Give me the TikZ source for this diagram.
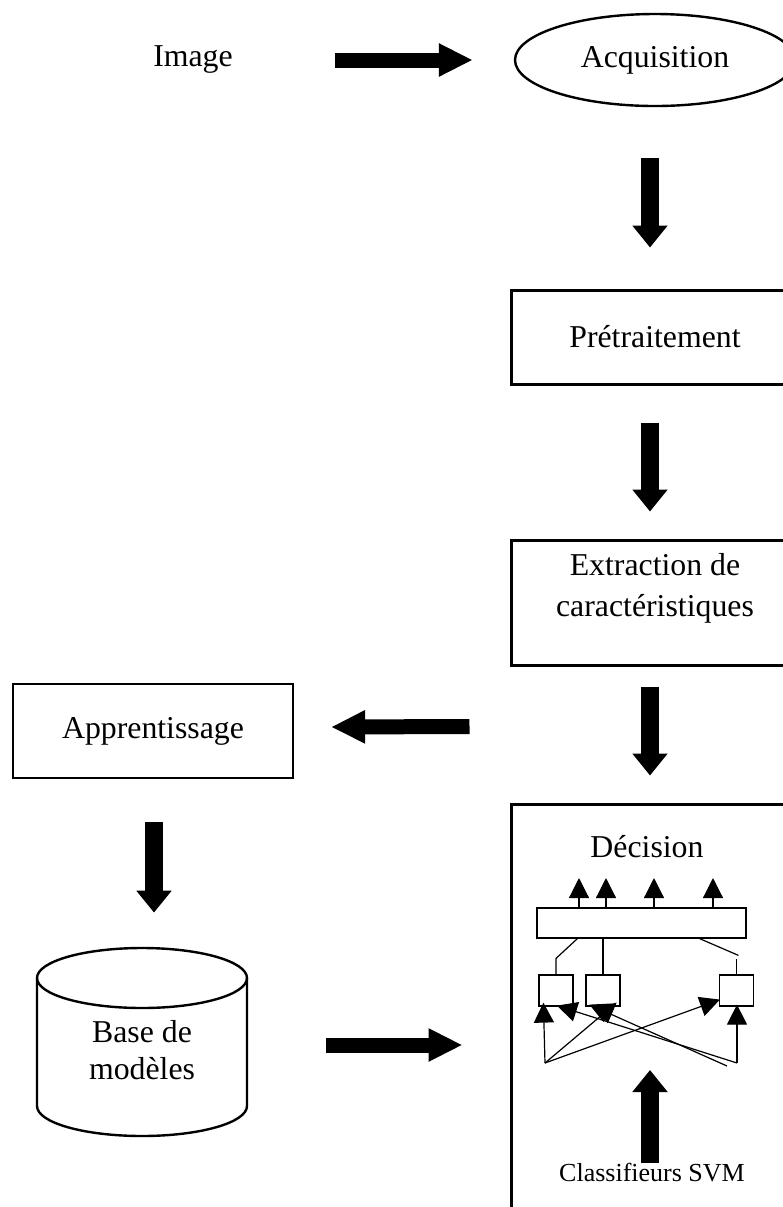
\documentclass[tikz,border=0pt]{standalone}
\usepackage{fontspec}
\setmainfont{Liberation Serif}
\usetikzlibrary{arrows.meta,shapes.geometric}
\begin{document}
\begin{tikzpicture}[x=0.5pt,y=-0.5pt,
  txt/.style={font=\fontsize{15.9}{20.5}\selectfont, inner sep=0pt, align=center},
  box/.style={draw, line width=1.5pt, minimum width=144pt, inner sep=0pt},
  hbig/.style={line width=7.5pt, -{Triangle[width=15.5pt,length=17pt]}},
  vbig/.style={line width=8.8pt, -{Triangle[width=17pt,length=11pt]}},
  thin/.style={line width=0.6pt},
  tharrow/.style={line width=0.6pt, -{Triangle[width=10pt,length=10pt]}},
  smallbox/.style={draw, line width=0.6pt, minimum width=17pt, minimum height=15.5pt, inner sep=0pt}]
\useasboundingbox (0,0) rectangle (783,1207);
\clip (0,0) rectangle (783,1207);

% main chain
\node[txt] (img) at (193,60) {Image};
\node[draw, ellipse, line width=1.2pt, minimum width=140pt, minimum height=46pt, txt] (acq) at (655,60) {Acquisition};
\node[box, minimum height=47pt, txt] (pre) at (655,337) {Prétraitement};
\node[box, minimum height=62.5pt] (ext) at (655,602.5) {};
\node[txt] (exttxt) at (655,588) {Extraction de\\caractéristiques};
\node[draw, line width=1.1pt, minimum width=140pt, minimum height=47pt, txt] (app) at (153,731) {Apprentissage};
\node[box, minimum height=213pt] (dec) at (655,1017) {};

% model base (cylinder)
\node[minimum width=105pt, minimum height=94pt, inner sep=0pt] (db) at (142,1042) {};
\draw[line width=1.2pt] (37,978) -- (37,1106) arc[start angle=180, end angle=0, x radius=105, y radius=30] -- (247,978);
\draw[line width=1.2pt] (142,978) ellipse [x radius=105, y radius=30];
\node[txt, font=\fontsize{15.9}{18.5}\selectfont] (dbtxt) at (142,1050) {Base de\\modèles};

% thick arrows between the stages
\draw[hbig] ([xshift=71pt]img.center) -- ([xshift=-20.5pt]acq.west);
\draw[vbig] ([shift={(-2.5pt,-25.5pt)}]acq.south) -- ([shift={(-2.5pt,20.5pt)}]pre.north);
\draw[vbig] ([shift={(-2.5pt,-18.5pt)}]pre.south) -- ([shift={(-2.5pt,13.5pt)}]ext.north);
\draw[vbig] ([shift={(-2.5pt,-10pt)}]ext.south) -- ([shift={(-2.5pt,13.5pt)}]dec.north);
\draw[hbig] ([shift={(-20pt,-62pt)}]ext.west) -- ([shift={(18.5pt,2pt)}]app.east);
\draw[vbig] ([shift={(0.5pt,-21.5pt)}]app.south) -- ([shift={(6pt,17.5pt)}]db.north);
\draw[hbig] ([shift={(39.5pt,-1.5pt)}]db.east) -- ([shift={(-23.5pt,-14pt)}]dec.west);

% decision block internals
\node[txt] (dectxt) at (647,847) {Décision};
\node[draw, line width=0.6pt, minimum width=104.5pt, minimum height=15pt, inner sep=0pt] (bar) at (641.5,923) {};
\coordinate (o1) at (579,878);
\coordinate (o2) at (606,878);
\coordinate (o3) at (654,878);
\coordinate (o4) at (713,878);
\foreach \o in {o1,o2,o3,o4}
  \draw[tharrow] (bar.north -| \o) -- (\o);

\node[smallbox] (b1) at (556,990.5) {};
\node[smallbox] (b2) at (603,990.5) {};
\node[smallbox] (b3) at (736.5,990.5) {};

\draw[thin] ([xshift=20.5pt]bar.south west) -- ([yshift=8pt]b1.north) -- (b1.north);
\draw[thin] (b2.north) -- (bar.south -| b2.north);
\draw[thin] ([xshift=-23.5pt]bar.south east) -- ([shift={(1pt,9.5pt)}]b3.north);
\draw[thin] (b3.north) -- ([yshift=7.5pt]b3.north);

\coordinate (L) at (545,1063);
\coordinate (R) at (737,1063);
\coordinate (R2) at (727,1066);
\draw[tharrow] (L) -- ([shift={(2.5pt,2pt)}]b1.south west);
\draw[tharrow] (L) -- ([shift={(-2pt,2pt)}]b2.south east);
\draw[tharrow] (L) -- ([shift={(0.5pt,3.5pt)}]b3.south west);
\draw[tharrow] (R) -- ([shift={(0.25pt,1pt)}]b3.south);
\draw[tharrow] (R) -- ([shift={(0.5pt,0.5pt)}]b1.south);
\draw[tharrow] (R2) -- ([shift={(2pt,1pt)}]b2.south west);

\node[inner sep=0pt, font=\fontsize{13}{15}\selectfont] (svm) at (652,1173) {Classifieurs SVM};
\coordinate (svmtip) at (650,1070);
\draw[vbig] (svm.north -| svmtip) -- (svmtip);
\end{tikzpicture}
\end{document}
